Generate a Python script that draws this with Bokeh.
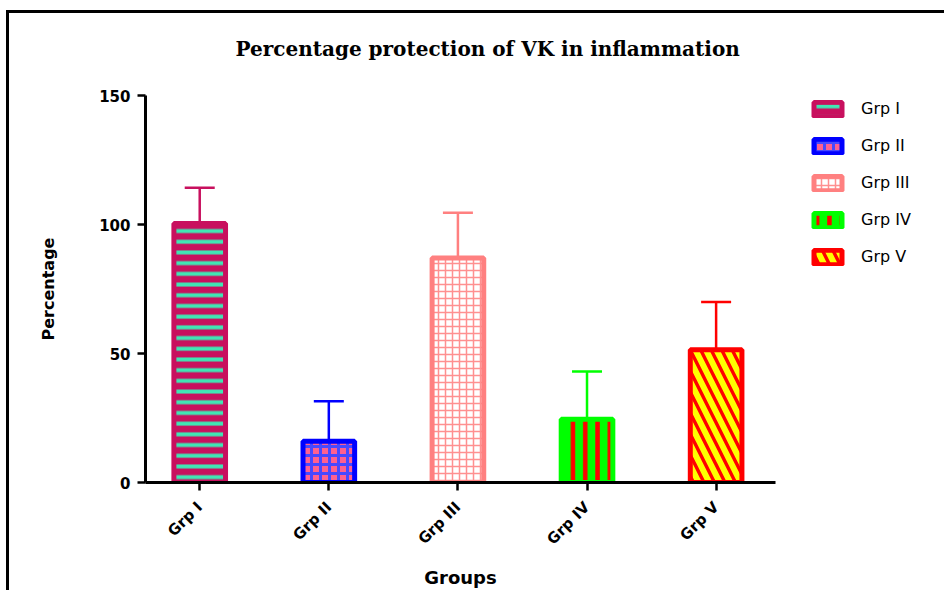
import math
from bokeh.plotting import figure
from bokeh.models import (ColumnDataSource, Whisker, TeeHead, FixedTicker, Legend, LegendItem, Range1d)
from bokeh.embed import file_html
from bokeh.resources import INLINE

groups = ["Grp I", "Grp II", "Grp III", "Grp IV", "Grp V"]
values = [100.4, 16.0, 87.0, 24.5, 51.5]
errors = [13.8, 15.5, 17.6, 18.5, 18.5]
y_ticks = [0, 50, 100, 150]

line_colors = ["#C8105E", "#0000FF", "#FF8080", "#00FF00", "#FF0000"]
fill_colors = ["#C8105E", "#FF6090", "#FFFFFF", "#00FF00", "#FF0000"]
hatch_colors = ["#40E6B4", "#4848FF", "#FF9090", "#FF0000", "#FFFF00"]
hatch_patterns = ["horizontal_line", "cross", "cross", "vertical_line", "left_diagonal_line"]
hatch_scales = [10.7, 9, 7, 12.3, 21]
hatch_weights = [4, 3, 1.5, 4.5, 6]

xs = list(range(1, len(groups) + 1))

p = figure(frame_width=630, frame_height=387, output_backend="svg", toolbar_location=None,
           x_range=Range1d(0.58, 5.46), y_range=Range1d(0, 150),
           min_border_left=145, min_border_top=95, min_border_bottom=107, min_border_right=153)
p.outline_line_color = None
p.xgrid.visible = False
p.ygrid.visible = False
p.border_fill_color = None
p.background_fill_color = "white"
p.styles = {
    "background": ("linear-gradient(black, black) 6px 10px / 100% 3px no-repeat, "
                   "linear-gradient(black, black) 6px 10px / 3px 100% no-repeat, white")
}

p.title.text = "Percentage protection of VK in inflammation"
p.title.text_font = "DejaVu Serif"
p.title.text_font_size = "20px"
p.title.text_font_style = "bold"
p.title.text_color = "black"
p.title.align = "left"
p.title.offset = 90
p.title.standoff = 69

items = []
for i, g in enumerate(groups):
    src = ColumnDataSource(dict(x=[xs[i]], top=[values[i]], upper=[values[i] + errors[i]]))
    w = Whisker(source=src, base="x", upper="upper", lower="top", dimension="height",
                line_color=line_colors[i], line_width=2.5,
                upper_head=TeeHead(size=30, line_color=line_colors[i], line_width=2.5),
                lower_head=None)
    p.add_layout(w)
    r = p.vbar(x="x", top="top", bottom=0, width=0.40, source=src,
               fill_color=fill_colors[i], line_color=line_colors[i], line_width=5,
               hatch_pattern=hatch_patterns[i], hatch_color=hatch_colors[i],
               hatch_scale=hatch_scales[i], hatch_weight=hatch_weights[i])
    items.append(LegendItem(label=g, renderers=[r]))

legend = Legend(items=items, location=(35, 216), margin=0, padding=0, spacing=18,
                glyph_width=35, glyph_height=18, label_standoff=16,
                label_text_font="DejaVu Sans", label_text_font_size="16px",
                label_text_color="black",
                border_line_color=None, background_fill_alpha=0)
p.add_layout(legend, "right")

for ax in (p.xaxis[0], p.yaxis[0]):
    ax.axis_line_width = 3
    ax.major_tick_line_width = 2.5
    ax.major_tick_out = 8
    ax.major_tick_in = 0
    ax.minor_tick_line_color = None
    ax.major_label_text_font = "DejaVu Sans"
    ax.major_label_text_font_style = "bold"
    ax.major_label_text_font_size = "15px"
    ax.major_label_text_color = "black"
    ax.axis_label_text_font = "DejaVu Sans"
    ax.axis_label_text_font_style = "bold"
    ax.axis_label_text_color = "black"

p.xaxis.ticker = FixedTicker(ticks=xs)
p.xaxis.major_label_overrides = {x: g for x, g in zip(xs, groups)}
p.xaxis.major_label_orientation = math.pi / 4
p.xaxis.major_label_standoff = 14
p.xaxis.axis_label = "Groups"
p.xaxis.axis_label_text_font_size = "18px"
p.xaxis.axis_label_standoff = 9

p.yaxis.ticker = FixedTicker(ticks=y_ticks)
p.yaxis.major_label_standoff = 7
p.yaxis.axis_label = "Percentage"
p.yaxis.axis_label_text_font_size = "16px"
p.yaxis.axis_label_standoff = 38

open("out.html", "w").write(file_html(p, INLINE))
